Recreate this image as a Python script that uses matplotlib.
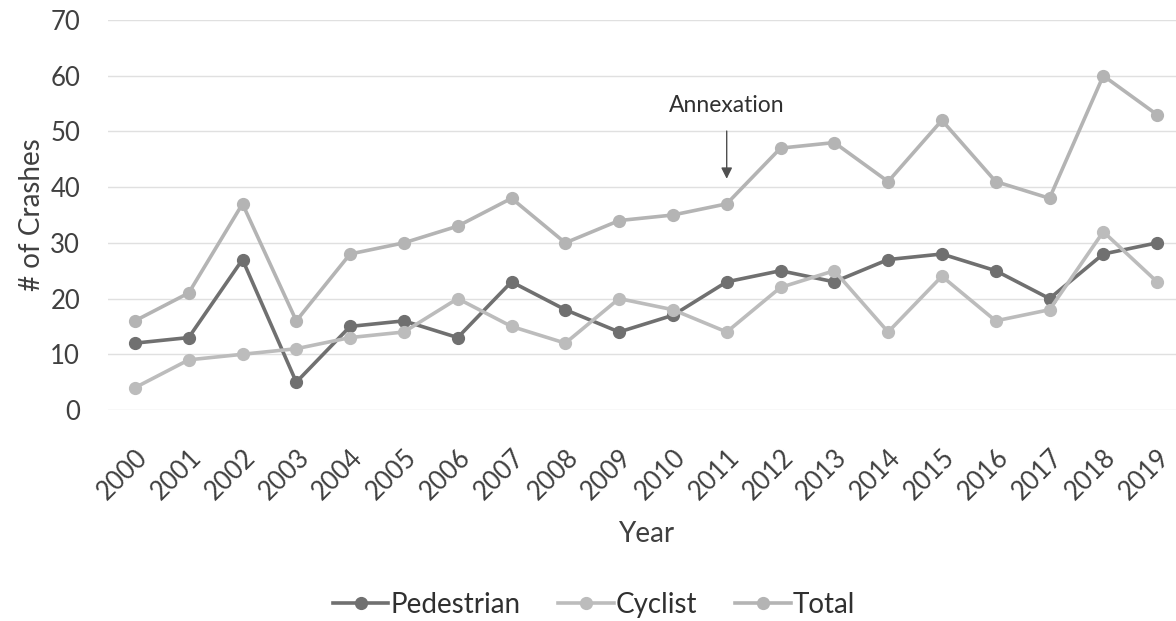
import matplotlib.pyplot as plt

# crash counts
years = [str(y) for y in range(2000, 2020)]
pedestrian = [12, 13, 27, 5, 15, 16, 13, 23, 18, 14, 17, 23, 25, 23, 27, 28, 25, 20, 28, 30]
cyclist = [4, 9, 10, 11, 13, 14, 20, 15, 12, 20, 18, 14, 22, 25, 14, 24, 16, 18, 32, 23]
total = [16, 21, 37, 16, 28, 30, 33, 38, 30, 34, 35, 37, 47, 48, 41, 52, 41, 38, 60, 53]

plt.rcParams['font.family'] = ['Lato', 'DejaVu Sans']

fig = plt.figure(figsize=(11.76, 6.21), dpi=100)
# plot area runs a bit past the right edge of the picture, like the cropped original
ax = fig.add_axes([108 / 1176, 211 / 621, 1076 / 1176, 390 / 621])

x = range(len(years))
ax.plot(x, pedestrian, color='#707070', lw=2.6, marker='o', ms=8.5, label='Pedestrian', zorder=3)
ax.plot(x, cyclist, color='#bcbcbc', lw=2.6, marker='o', ms=8.5, label='Cyclist', zorder=3)
ax.plot(x, total, color='#b4b4b4', lw=2.6, marker='o', ms=8.5, label='Total', zorder=3)

ax.set_xlim(-0.5, 19.5)
ax.set_ylim(0, 70)
ax.set_yticks(range(0, 71, 10))
ax.set_xticks(list(x))
ax.set_xticklabels(years, rotation=45, ha='right', rotation_mode='anchor')
ax.tick_params(axis='both', length=0, labelsize=18.5, colors='#404040')
ax.tick_params(axis='x', pad=25)
ax.tick_params(axis='y', pad=20)
ax.grid(axis='y', color='#e0e0e0', lw=1)
ax.set_axisbelow(True)
for s in ax.spines.values():
    s.set_visible(False)

ax.set_ylabel('# of Crashes', fontsize=20, color='#404040', labelpad=4)
ax.set_xlabel('Year', fontsize=20, color='#404040', labelpad=12)

# annexation marker
ax.annotate('Annexation', xy=(11, 41.5), xytext=(11, 54.7), ha='center', va='center',
            fontsize=16.5, color='#303030',
            arrowprops=dict(arrowstyle='-|>', color='#505050', lw=1, shrinkA=9, shrinkB=0))

fig.legend(loc='center', bbox_to_anchor=(594 / 1176, 1 - 605 / 621), ncol=3, frameon=False,
           fontsize=20, handlelength=2.0, handletextpad=0.08, columnspacing=1.35,
           labelcolor='#303030')

fig.savefig('out.png', dpi=100)
